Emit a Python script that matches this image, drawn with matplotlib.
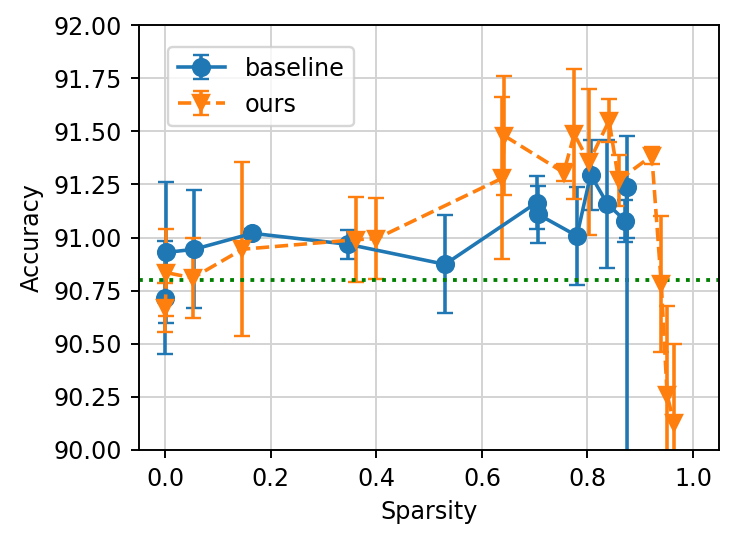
import matplotlib
matplotlib.use("Agg")
from matplotlib import pyplot as plt

# baseline runs (last point collapses far below the visible range)
baseline_x = [0.0, 0.002, 0.055, 0.165, 0.347, 0.530, 0.704, 0.706, 0.780, 0.806, 0.838, 0.872, 0.875, 0.877]
baseline_acc = [90.717, 90.93, 90.945, 91.02, 90.968, 90.874, 91.165, 91.11, 91.008, 91.295, 91.158, 91.078,
                91.236, 10.0]
baseline_err = [0.265, 0.33, 0.278, 0.02, 0.068, 0.23, 0.125, 0.134, 0.23, 0.165, 0.30, 0.10, 0.24, 0.0]

# our runs
ours_x = [0.0, 0.002, 0.052, 0.146, 0.361, 0.400, 0.639, 0.642, 0.755, 0.775, 0.803, 0.841, 0.859, 0.922,
          0.940, 0.951, 0.964]
ours_acc = [90.67, 90.835, 90.81, 90.945, 90.99, 90.995, 91.28, 91.48, 91.306, 91.487, 91.355, 91.55, 91.27,
            91.385, 90.78, 90.26, 90.125]
ours_err = [0.115, 0.205, 0.19, 0.41, 0.2, 0.19, 0.38, 0.28, 0.04, 0.305, 0.345, 0.1, 0.12, 0.04, 0.32, 0.42,
            0.375]

reference_acc = 90.8
y_ticks = [90.0, 90.25, 90.5, 90.75, 91.0, 91.25, 91.5, 91.75, 92.0]

dpi = 172
fig = plt.figure(figsize=(747 / dpi, 544 / dpi), dpi=dpi)
ax = fig.add_axes([0.186, 0.1728, 0.777, 0.781])

ax.errorbar(baseline_x, baseline_acc, yerr=baseline_err, fmt='-o', color='C0', markersize=7, capsize=3.3,
            label='baseline')
ax.errorbar(ours_x, ours_acc, yerr=ours_err, fmt='--v', color='C1', markersize=7, capsize=3.5, label='ours')
ax.axhline(reference_acc, color='green', linestyle=':', linewidth=1.6)

ax.set_xlim(-0.05, 1.05)
ax.set_ylim(90.0, 92.0)
ax.set_yticks(y_ticks)
ax.set_yticklabels(['%.2f' % t for t in y_ticks])
ax.grid(True, color='#d3d3d3', linewidth=0.8)
ax.set_axisbelow(True)
ax.set_xlabel('Sparsity')
ax.set_ylabel('Accuracy')
ax.legend(loc='upper left', bbox_to_anchor=(0.05, 0.948), borderaxespad=0)

fig.savefig('out.png', dpi=dpi)
